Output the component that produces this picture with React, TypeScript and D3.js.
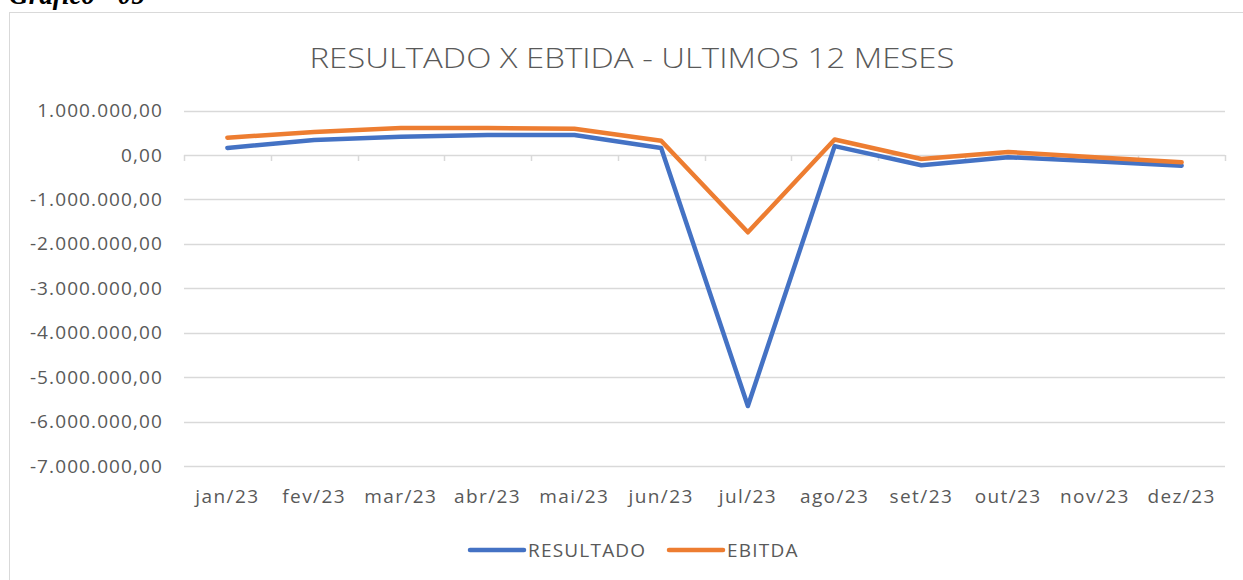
import React, { useEffect, useRef } from 'react';
import * as d3 from 'd3';

const months = ['jan/23', 'fev/23', 'mar/23', 'abr/23', 'mai/23', 'jun/23', 'jul/23', 'ago/23', 'set/23', 'out/23', 'nov/23', 'dez/23'];
const resultado = [160000, 340000, 410000, 450000, 450000, 160000, -5650000, 200000, -230000, -50000, -140000, -240000];
const ebitda = [390000, 520000, 610000, 610000, 590000, 320000, -1740000, 350000, -90000, 70000, -50000, -165000];
const yTicks = [1000000, 0, -1000000, -2000000, -3000000, -4000000, -5000000, -6000000, -7000000];

const seriesList = [
  { name: 'RESULTADO', values: resultado, color: '#4472C4' },
  { name: 'EBITDA', values: ebitda, color: '#ED7D31' },
];

const W = 1243;
const H = 580;
const textColor = '#595959';
const gridColor = '#d9d9d9';
const font = '"Open Sans", "Liberation Sans", sans-serif';

// pt-BR style number: 1.000.000,00
const fmt = (v: number) => {
  const s = Math.abs(v).toFixed(0).replace(/\B(?=(\d{3})+(?!\d))/g, '.');
  return (v < 0 ? '-' : '') + s + ',00';
};

export default function App() {
  const svgRef = useRef<SVGSVGElement>(null);

  useEffect(() => {
    const svg = d3.select(svgRef.current);
    svg.selectAll('*').remove();

    const margin = { left: 184, right: 18, top: 110.6, bottom: 114 };
    const x = d3.scaleBand().domain(months).range([margin.left, W - margin.right]);
    const y = d3.scaleLinear().domain([-7000000, 1000000]).range([H - margin.bottom, margin.top]);

    // caption above the chart box (cut off at the top)
    svg.append('text')
      .attr('x', 9).attr('y', 4)
      .attr('font-family', '"Liberation Serif", "DejaVu Serif", serif')
      .attr('font-style', 'italic').attr('font-weight', 700)
      .attr('font-size', 30).attr('fill', '#000')
      .attr('textLength', 136).attr('lengthAdjust', 'spacingAndGlyphs')
      .text('Gráfico - 05');

    // chart area border
    svg.append('rect')
      .attr('x', 9.5).attr('y', 12.5)
      .attr('width', W + 10).attr('height', H + 10)
      .attr('fill', '#fff').attr('stroke', gridColor).attr('stroke-width', 1);

    svg.append('text')
      .attr('x', 632).attr('y', 68)
      .attr('text-anchor', 'middle')
      .attr('font-family', font).attr('font-weight', 300)
      .attr('font-size', 27).attr('fill', textColor)
      .attr('textLength', 645).attr('lengthAdjust', 'spacingAndGlyphs')
      .text('RESULTADO X EBTIDA - ULTIMOS 12 MESES');

    // gridlines
    svg.append('g')
      .selectAll('line')
      .data(yTicks)
      .join('line')
      .attr('x1', margin.left).attr('x2', W - margin.right)
      .attr('y1', d => Math.round(y(d)) + 0.5).attr('y2', d => Math.round(y(d)) + 0.5)
      .attr('stroke', gridColor).attr('stroke-width', 1.5);

    // y labels
    svg.append('g')
      .selectAll('text')
      .data(yTicks)
      .join('text')
      .attr('x', 163).attr('y', d => y(d) + 6.5)
      .attr('text-anchor', 'end')
      .attr('font-family', font).attr('font-size', 19).attr('fill', textColor)
      .attr('letter-spacing', 1.1)
      .text(d => fmt(d));

    // category ticks on the zero line
    const bounds = months.map(m => x(m) as number).concat([W - margin.right]);
    svg.append('g')
      .selectAll('line')
      .data(bounds)
      .join('line')
      .attr('x1', d => Math.round(d) + 0.5).attr('x2', d => Math.round(d) + 0.5)
      .attr('y1', y(0)).attr('y2', y(0) + 6)
      .attr('stroke', gridColor).attr('stroke-width', 1.5);

    // x labels
    svg.append('g')
      .selectAll('text')
      .data(months)
      .join('text')
      .attr('x', d => (x(d) as number) + x.bandwidth() / 2)
      .attr('y', 503)
      .attr('text-anchor', 'middle')
      .attr('font-family', font).attr('font-size', 19).attr('fill', textColor)
      .attr('letter-spacing', 1.4)
      .text(d => d);

    const line = d3.line<number>()
      .x((_, i) => (x(months[i]) as number) + x.bandwidth() / 2)
      .y(d => y(d));

    seriesList.forEach(s => {
      svg.append('path')
        .datum(s.values)
        .attr('d', line)
        .attr('fill', 'none')
        .attr('stroke', s.color)
        .attr('stroke-width', 4.5)
        .attr('stroke-linejoin', 'round')
        .attr('stroke-linecap', 'round');
    });

    // legend
    const legendPos = [470, 669];
    seriesList.forEach((s, i) => {
      const lx = legendPos[i];
      svg.append('line')
        .attr('x1', lx).attr('x2', lx + 54)
        .attr('y1', 550).attr('y2', 550)
        .attr('stroke', s.color).attr('stroke-width', 4.5)
        .attr('stroke-linecap', 'round');
      svg.append('text')
        .attr('x', lx + 58).attr('y', 557)
        .attr('font-family', font).attr('font-size', 19).attr('fill', textColor)
        .attr('letter-spacing', 1.2)
        .text(s.name);
    });
  }, []);

  return (
    <svg
      ref={svgRef}
      width={W}
      height={H}
      style={{ position: 'absolute', left: 0, top: 0, background: '#fff' }}
    />
  );
}
